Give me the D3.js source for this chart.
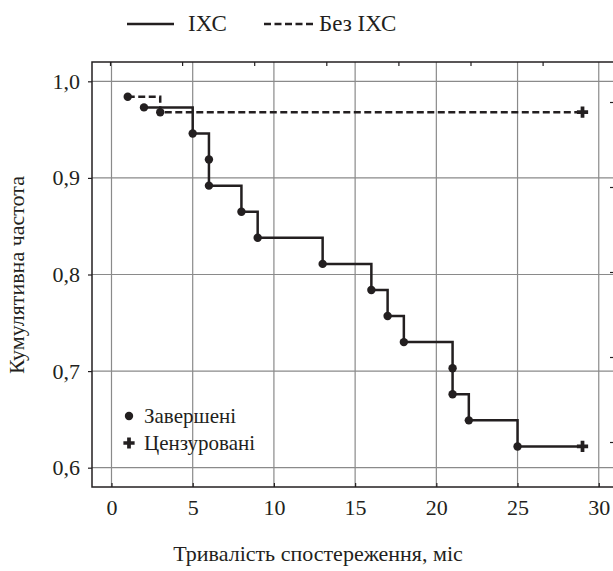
<!DOCTYPE html>
<html>
<head>
<meta charset="utf-8">
<script src="https://cdn.jsdelivr.net/npm/d3@7"></script>
</head>
<body style="margin:0">
<script>
// Kaplan-Meier steps
let ihsTimes = [2, 5, 6, 6, 8, 9, 13, 16, 17, 18, 21, 21, 22, 25];
let ihsValues = [0.973, 0.946, 0.919, 0.892, 0.865, 0.838, 0.811, 0.784, 0.757, 0.730, 0.703, 0.676, 0.649, 0.622];
let ihsCensored = [29];

let noIhsTimes = [1, 3];
let noIhsValues = [0.984, 0.968];
let noIhsCensored = [29];

let xTicks = [0, 5, 10, 15, 20, 25, 30];
let yTicks = [0.6, 0.7, 0.8, 0.9, 1.0];
let topTicks = [0, 1, 2, 3, 4, 5, 6];
let rightTicks = [0, 1, 2, 3, 4];

let seriesNames = ["ІХС", "Без ІХС"];
let markerNames = ["Завершені", "Цензуровані"];

let svgWidth = 613;
let svgHeight = 571;
let fontStack = "'Times New Roman', 'Liberation Serif', Tinos, FreeSerif, Times, Georgia";

let svg = d3.select("body")
    .append("svg")
    .attr("width", svgWidth)
    .attr("height", svgHeight)
    .style("font-family", fontStack)

let frame = { left: 92, right: 615, top: 62, bottom: 487 }

let x = d3.scaleLinear().domain([-1.2, 31]).range([frame.left, frame.right]);
let y = d3.scaleLinear().domain([0.58, 1.02]).range([frame.bottom, frame.top]);
let xTop = d3.scaleLinear().domain([0, 7]).range([110, 614.7]);
let yRight = d3.scaleLinear().domain([0, 4]).range([102, 442]);

let ink = "#231f20";
let gridColor = "#8a8a8a";

// grid
svg.append("g")
    .selectAll("line")
    .data(xTicks)
    .enter()
    .append("line")
    .attr("x1", d => x(d)).attr("x2", d => x(d))
    .attr("y1", frame.top).attr("y2", frame.bottom)
    .attr("stroke", gridColor).attr("stroke-width", 1.2)

svg.append("g")
    .selectAll("line")
    .data(yTicks)
    .enter()
    .append("line")
    .attr("x1", frame.left).attr("x2", frame.right)
    .attr("y1", d => y(d)).attr("y2", d => y(d))
    .attr("stroke", gridColor).attr("stroke-width", 1.2)

// axes
let bottomAxis = d3.axisBottom(x).tickValues(xTicks).tickSize(-4).tickFormat(d3.format("d")).tickPadding(12);
let leftAxis = d3.axisLeft(y).tickValues(yTicks).tickSize(4).tickPadding(8)
    .tickFormat(d => d3.format(".1f")(d).replace(".", ","));
let topAxis = d3.axisTop(xTop).tickValues(topTicks).tickSize(-4).tickFormat("");
let rightAxis = d3.axisRight(yRight).tickValues(rightTicks).tickSize(-4).tickFormat("");

function styleAxis(g) {
    g.attr("font-family", null).attr("font-size", null);
    g.select(".domain").remove();
    g.selectAll(".tick line").attr("stroke", ink).attr("stroke-width", 1.2);
    g.selectAll(".tick text")
        .attr("fill", ink)
        .style("font-family", fontStack)
        .style("font-size", "22px");
}

svg.append("g").attr("transform", `translate(0,${frame.bottom})`).call(bottomAxis).call(styleAxis);
svg.append("g").attr("transform", `translate(${frame.left},0)`).call(leftAxis).call(styleAxis);
svg.append("g").attr("transform", `translate(0,${frame.top})`).call(topAxis).call(styleAxis);
svg.append("g").attr("transform", `translate(${frame.right - 1},0)`).call(rightAxis).call(styleAxis);

// frame
svg.append("rect")
    .attr("x", frame.left).attr("y", frame.top)
    .attr("width", frame.right - frame.left).attr("height", frame.bottom - frame.top)
    .attr("fill", "none").attr("stroke", ink).attr("stroke-width", 1.5)

// build step paths
function stepPoints(times, values, end) {
    let pts = [[times[0], values[0]]];
    for (let i = 1; i < times.length; i++) {
        pts.push([times[i], values[i - 1]]);
        pts.push([times[i], values[i]]);
    }
    pts.push([end, values[values.length - 1]]);
    return pts;
}

let line = d3.line().x(d => x(d[0])).y(d => y(d[1]));

// Без ІХС (dashed)
svg.append("path")
    .attr("d", line(stepPoints(noIhsTimes, noIhsValues, noIhsCensored[0])))
    .attr("fill", "none").attr("stroke", ink).attr("stroke-width", 2.5)
    .attr("stroke-dasharray", "7,3.5")

// ІХС (solid)
svg.append("path")
    .attr("d", line(stepPoints(ihsTimes, ihsValues, ihsCensored[0])))
    .attr("fill", "none").attr("stroke", ink).attr("stroke-width", 2.5)

// event points
let events = ihsTimes.map((t, i) => [t, ihsValues[i]])
    .concat(noIhsTimes.map((t, i) => [t, noIhsValues[i]]));

svg.append("g")
    .selectAll("circle")
    .data(events)
    .enter()
    .append("circle")
    .attr("cx", d => x(d[0]))
    .attr("cy", d => y(d[1]))
    .attr("r", 4.2)
    .attr("fill", ink)

// censored marks
let censored = ihsCensored.map(t => [t, ihsValues[ihsValues.length - 1]])
    .concat(noIhsCensored.map(t => [t, noIhsValues[noIhsValues.length - 1]]));

let cross = d3.symbol().type(d3.symbolCross).size(70);
svg.append("g")
    .selectAll("path")
    .data(censored)
    .enter()
    .append("path")
    .attr("d", cross)
    .attr("transform", d => `translate(${x(d[0])},${y(d[1])})`)
    .attr("fill", ink)

// legends and titles
let labels = [
    { t: seriesNames[0], x: 188, y: 31, s: 23, a: "start", r: 0 },
    { t: seriesNames[1], x: 319, y: 31, s: 23, a: "start", r: 0 },
    { t: markerNames[0], x: 144, y: 423, s: 21, a: "start", r: 0 },
    { t: markerNames[1], x: 144, y: 450, s: 21, a: "start", r: 0 },
    { t: "Тривалість спостереження, міс", x: 318, y: 561, s: 22, a: "middle", r: 0 },
    { t: "Кумулятивна частота", x: 24, y: 275, s: 22, a: "middle", r: -90 }
];

svg.append("g")
    .selectAll("text")
    .data(labels)
    .enter()
    .append("text")
    .attr("transform", d => `translate(${d.x},${d.y}) rotate(${d.r})`)
    .attr("text-anchor", d => d.a)
    .attr("fill", ink)
    .style("font-family", fontStack)
    .style("font-size", d => d.s + "px")
    .text(d => d.t);

// legend keys
svg.append("line").attr("x1", 127).attr("x2", 174).attr("y1", 24).attr("y2", 24)
    .attr("stroke", ink).attr("stroke-width", 2.5);
svg.append("line").attr("x1", 264).attr("x2", 313).attr("y1", 24).attr("y2", 24)
    .attr("stroke", ink).attr("stroke-width", 2.5).attr("stroke-dasharray", "7,3.5");
svg.append("circle").attr("cx", 129).attr("cy", 416).attr("r", 4.2).attr("fill", ink);
svg.append("path").attr("d", cross).attr("transform", "translate(129,443)").attr("fill", ink);
</script>
</body>
</html>
